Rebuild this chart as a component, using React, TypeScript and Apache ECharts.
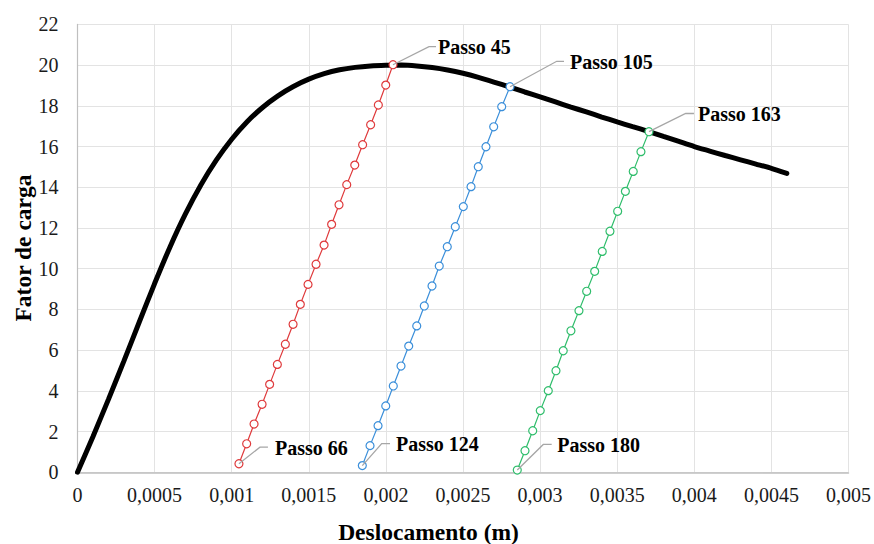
import React, { useEffect, useRef } from "react";
import * as echarts from "echarts";

// Main load-displacement curve
const curveX = [
  0, 0.0001, 0.0002, 0.0003, 0.0004, 0.0005, 0.0006, 0.0007, 0.0008, 0.0009, 0.001,
  0.0011, 0.0012, 0.0013, 0.0014, 0.0015, 0.0016, 0.0017, 0.0018, 0.0019, 0.002,
  0.0021, 0.0022, 0.0023, 0.0024, 0.0025, 0.0026, 0.0027, 0.0028, 0.0029, 0.003,
  0.0031, 0.0032, 0.0033, 0.0034, 0.0035, 0.0036, 0.0037, 0.0038, 0.0039, 0.004,
  0.0041, 0.0042, 0.0043, 0.0044, 0.0045, 0.0046,
];
const curveY = [
  0, 1.75, 3.57, 5.45, 7.37, 9.27, 11.07, 12.69, 14.11, 15.33, 16.36,
  17.22, 17.92, 18.49, 18.95, 19.31, 19.58, 19.77, 19.89, 19.96, 19.99,
  20.0, 19.96, 19.88, 19.76, 19.6, 19.4, 19.17, 18.93, 18.68, 18.44,
  18.19, 17.94, 17.7, 17.45, 17.21, 16.98, 16.75, 16.5, 16.25, 16.0,
  15.78, 15.56, 15.35, 15.14, 14.93, 14.68,
];

// Unloading branch Passo 45 -> 66 (red)
const redX = [
  0.001047, 0.001097, 0.001145, 0.001197, 0.001246, 0.001296, 0.001348, 0.001398,
  0.001445, 0.001495, 0.001547, 0.001599, 0.001648, 0.001696, 0.001746, 0.001798,
  0.001849, 0.001901, 0.001951, 0.001999, 0.002046,
];
const redY = [
  0.42, 1.4, 2.37, 3.34, 4.32, 5.3, 6.29, 7.27, 8.25, 9.23, 10.22, 11.16, 12.18,
  13.14, 14.13, 15.09, 16.09, 17.07, 18.04, 19.02, 20.02,
];

// Unloading branch Passo 105 -> 124 (blue)
const blueX = [
  0.001847, 0.001897, 0.001949, 0.001999, 0.002048, 0.002098, 0.002148, 0.0022,
  0.002249, 0.002299, 0.002346, 0.002398, 0.00245, 0.002502, 0.002552, 0.002599,
  0.002649, 0.002699, 0.002751, 0.002805,
];
const blueY = [
  0.33, 1.31, 2.29, 3.26, 4.24, 5.22, 6.2, 7.19, 8.17, 9.15, 10.13, 11.08, 12.06,
  13.05, 14.03, 15.01, 15.99, 16.97, 17.96, 18.94,
];

// Unloading branch Passo 163 -> 180 (green)
const greenX = [
  0.002852, 0.002902, 0.002952, 0.003001, 0.003053, 0.003103, 0.00315, 0.0032,
  0.003252, 0.003302, 0.003354, 0.003403, 0.003453, 0.003503, 0.003553, 0.003604,
  0.003654, 0.003706,
];
const greenY = [
  0.11, 1.06, 2.04, 3.03, 4.01, 4.99, 5.97, 6.95, 7.94, 8.89, 9.87, 10.85, 11.84,
  12.82, 13.8, 14.78, 15.75, 16.73,
];

// Annotation labels
const stepLabels = ["Passo 45", "Passo 66", "Passo 105", "Passo 124", "Passo 163", "Passo 180"];

const zip = (xs: number[], ys: number[]) => xs.map((x, i) => [x, ys[i]]);

const SERIF = "'Liberation Serif', 'Times New Roman', serif";

export default function App() {
  const ref = useRef<HTMLDivElement>(null);

  useEffect(() => {
    if (!ref.current) return;
    const chart = echarts.init(ref.current, null, { renderer: "svg" });

    const branch = (name: string, xs: number[], ys: number[], color: string) => ({
      name,
      type: "line",
      data: zip(xs, ys),
      symbol: "circle",
      symbolSize: 8,
      showAllSymbol: true,
      lineStyle: { color, width: 1.2 },
      itemStyle: { color: "#ffffff", borderColor: color, borderWidth: 1.2 },
      z: 3,
    });

    chart.setOption({
      animation: false,
      backgroundColor: "#ffffff",
      grid: { left: 77.5, right: 25.5, top: 24.4, bottom: 71.7 },
      xAxis: {
        type: "value",
        min: 0,
        max: 0.005,
        interval: 0.0005,
        axisLine: { show: true, onZero: false, lineStyle: { color: "#bfbfbf", width: 1.5 } },
        axisTick: { show: false },
        splitLine: { show: true, lineStyle: { color: "#e3e3e3", width: 1 } },
        axisLabel: {
          margin: 13,
          color: "#1a1a1a",
          fontFamily: SERIF,
          fontSize: 20,
          formatter: (v: number) => String(parseFloat(v.toFixed(4))).replace(".", ","),
        },
      },
      yAxis: {
        type: "value",
        min: 0,
        max: 22,
        interval: 2,
        axisLine: { show: true, lineStyle: { color: "#bfbfbf", width: 1.2 } },
        axisTick: { show: false },
        splitLine: { show: true, lineStyle: { color: "#e3e3e3", width: 1 } },
        axisLabel: {
          margin: 19,
          color: "#1a1a1a",
          fontFamily: SERIF,
          fontSize: 20,
        },
      },
      series: [
        {
          name: "Curva",
          type: "line",
          data: zip(curveX, curveY),
          symbol: "none",
          smooth: 0.2,
          lineStyle: { color: "#000000", width: 5, cap: "round" },
          z: 2,
        },
        branch("Descarga 1", redX, redY, "#df3a3c"),
        branch("Descarga 2", blueX, blueY, "#3b8fda"),
        branch("Descarga 3", greenX, greenY, "#2fbd6b"),
      ],
    });

    // Annotation anchors: labelled data point, plus leader offsets (style)
    const anchors = [
      { pt: [redX[redX.length - 1], redY[redY.length - 1]], dx: 36, dy: -18, h: 7, t: 45 },
      { pt: [redX[0], redY[0]], dx: 21, dy: -16.6, h: 8, t: 36 },
      { pt: [blueX[blueX.length - 1], blueY[blueY.length - 1]], dx: 46.7, dy: -25.4, h: 7.3, t: 60 },
      { pt: [blueX[0], blueY[0]], dx: 19.4, dy: -22, h: 8.3, t: 33.7 },
      { pt: [greenX[greenX.length - 1], greenY[greenY.length - 1]], dx: 36.7, dy: -18.2, h: 8.3, t: 49 },
      { pt: [greenX[0], greenY[0]], dx: 26, dy: -25.6, h: 8.4, t: 40 },
    ];

    const graphics: any[] = [];
    anchors.forEach((a, i) => {
      const p = chart.convertToPixel({ xAxisIndex: 0, yAxisIndex: 0 }, a.pt) as number[];
      const ex = p[0] + a.dx;
      const ey = p[1] + a.dy;
      graphics.push({
        type: "polyline",
        z: 100,
        silent: true,
        shape: { points: [[p[0], p[1]], [ex, ey], [ex + a.h, ey]] },
        style: { stroke: "#a6a6a6", lineWidth: 1.3, fill: null },
      });
      graphics.push({
        type: "text",
        z: 100,
        silent: true,
        x: p[0] + a.t,
        y: ey + 0.5,
        style: {
          text: stepLabels[i],
          font: `bold 20px ${SERIF}`,
          fill: "#000000",
          align: "left",
          verticalAlign: "middle",
          textAlign: "left",
          textVerticalAlign: "middle",
        },
      });
    });

    graphics.push({
      type: "text",
      silent: true,
      x: 428.5,
      y: 532,
      style: {
        text: "Deslocamento (m)",
        font: `bold 23.5px ${SERIF}`,
        fill: "#000000",
        align: "center",
        verticalAlign: "middle",
        textAlign: "center",
        textVerticalAlign: "middle",
      },
    });
    graphics.push({
      type: "text",
      silent: true,
      x: 23,
      y: 248,
      rotation: Math.PI / 2,
      style: {
        text: "Fator de carga",
        font: `bold 23.5px ${SERIF}`,
        fill: "#000000",
        align: "center",
        verticalAlign: "middle",
        textAlign: "center",
        textVerticalAlign: "middle",
      },
    });

    chart.setOption({ graphic: graphics });

    return () => chart.dispose();
  }, []);

  return (
    <div
      ref={ref}
      style={{ position: "absolute", left: 0, top: 0, width: 874, height: 544 }}
    />
  );
}
